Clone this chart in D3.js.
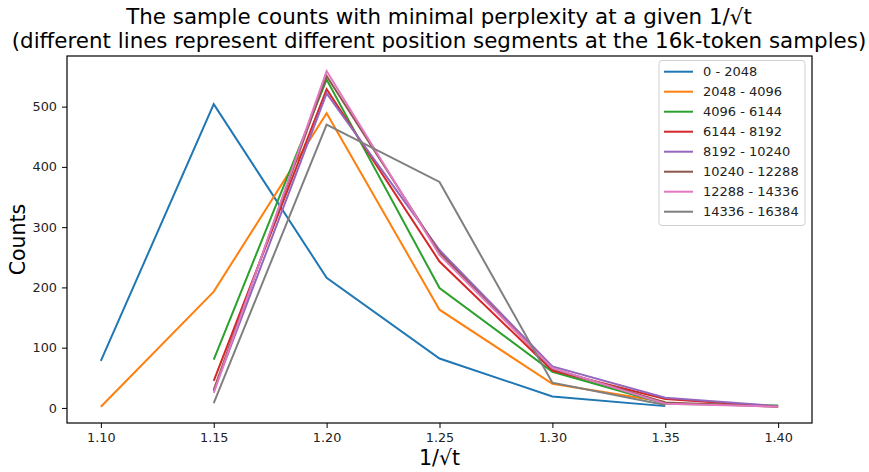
<!DOCTYPE html>
<html>
<head>
<meta charset="utf-8">
<script src="https://cdn.jsdelivr.net/npm/d3@7"></script>
<style>
  body { margin: 0; background: #fff; }
  svg { font-family: "DejaVu Sans", sans-serif; }
</style>
</head>
<body>
<svg id="chart" width="869" height="472"></svg>
<script>
// x positions (1/sqrt(t))
const xValues = [1.10, 1.15, 1.20, 1.25, 1.30, 1.35, 1.40];
const xTicks = [1.10, 1.15, 1.20, 1.25, 1.30, 1.35, 1.40];
const yTicks = [0, 100, 200, 300, 400, 500];

const segments = ["0 - 2048", "2048 - 4096", "4096 - 6144", "6144 - 8192",
  "8192 - 10240", "10240 - 12288", "12288 - 14336", "14336 - 16384"];

// counts per segment, null where no point
const seg0 = [78, 504, 216, 82, 19, 3, null];
const seg1 = [2, 193, 489, 163, 40, 10, null];
const seg2 = [null, 80, 545, 199, 60, 7, 4];
const seg3 = [null, 45, 529, 243, 62, 15, 2];
const seg4 = [null, 28, 522, 262, 69, 17, 3];
const seg5 = [null, 30, 551, 258, 65, 9, 2];
const seg6 = [null, 25, 559, 254, 66, 7, 2];
const seg7 = [null, 8, 470, 375, 42, 5, null];
const counts = [seg0, seg1, seg2, seg3, seg4, seg5, seg6, seg7];

const colors = d3.schemeCategory10;

const margin = { left: 67, right: 812, top: 56, bottom: 423 };

const svg = d3.select("#chart");

const x = d3.scaleLinear().domain([1.085, 1.415]).range([margin.left, margin.right]);
const y = d3.scaleLinear().domain([-25, 584]).range([margin.bottom, margin.top]);

// title
svg.append("text")
  .attr("x", 439).attr("y", 24)
  .attr("text-anchor", "middle")
  .style("font-size", "21.4px")
  .text("The sample counts with minimal perplexity at a given 1/√t");
svg.append("text")
  .attr("x", 439).attr("y", 48)
  .attr("text-anchor", "middle")
  .style("font-size", "21.4px")
  .text("(different lines represent different position segments at the 16k-token samples)");

// axes
const xAxis = svg.append("g")
  .attr("transform", `translate(0,${margin.bottom})`)
  .call(d3.axisBottom(x).tickValues(xTicks).tickFormat(d3.format(".2f")).tickSizeOuter(0).tickSize(5).tickPadding(5));
const yAxis = svg.append("g")
  .attr("transform", `translate(${margin.left},0)`)
  .call(d3.axisLeft(y).tickValues(yTicks).tickSizeOuter(0).tickSize(5).tickPadding(5));
[xAxis, yAxis].forEach(a => {
  a.select(".domain").remove();
  a.selectAll("text").style("font-size", "12.8px").attr("fill", "#222").style("font-family", "DejaVu Sans");
  a.selectAll("line").attr("stroke", "#000");
});

// lines
const line = d3.line()
  .defined(d => d.v !== null)
  .x(d => x(d.x))
  .y(d => y(d.v));

counts.forEach((series, i) => {
  svg.append("path")
    .datum(series.map((v, j) => ({ x: xValues[j], v: v })))
    .attr("fill", "none")
    .attr("stroke", colors[i])
    .attr("stroke-width", 2)
    .attr("d", line);
});

// frame
svg.append("rect")
  .attr("x", margin.left).attr("y", margin.top)
  .attr("width", margin.right - margin.left)
  .attr("height", margin.bottom - margin.top)
  .attr("fill", "none")
  .attr("stroke", "#000")
  .attr("stroke-width", 1.2);

// axis titles
svg.append("text")
  .attr("x", (margin.left + margin.right) / 2).attr("y", 465)
  .attr("text-anchor", "middle")
  .style("font-size", "20.5px")
  .text("1/√t");
svg.append("text")
  .attr("transform", `translate(25,${(margin.top + margin.bottom) / 2}) rotate(-90)`)
  .attr("text-anchor", "middle")
  .style("font-size", "20.5px")
  .text("Counts");

// legend
const legend = svg.append("g");
legend.append("rect")
  .attr("x", 659).attr("y", 60.5)
  .attr("width", 146).attr("height", 165)
  .attr("rx", 3)
  .attr("fill", "#fff").attr("fill-opacity", 0.8)
  .attr("stroke", "#d0d0d0");
segments.forEach((name, i) => {
  const yy = 71.7 + i * 20;
  legend.append("line")
    .attr("x1", 664).attr("x2", 693)
    .attr("y1", yy).attr("y2", yy)
    .attr("stroke", colors[i]).attr("stroke-width", 2);
  legend.append("text")
    .attr("x", 703).attr("y", yy + 4.6)
    .style("font-size", "13px")
    .attr("fill", "#222")
    .text(name);
});
</script>
</body>
</html>
